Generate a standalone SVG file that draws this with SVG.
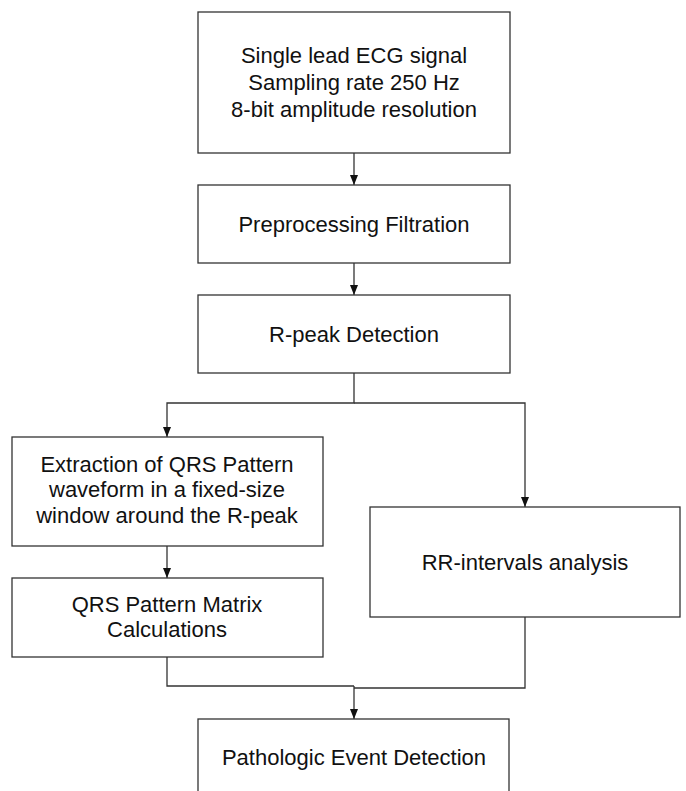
<svg xmlns="http://www.w3.org/2000/svg" width="686" height="791" viewBox="0 0 686 791">
<style>
.box{fill:#fff;stroke:#333;stroke-width:1.3}
.t{font-family:"Liberation Sans",Arial,sans-serif;font-size:22px;fill:#111;text-anchor:middle}
.c{fill:none;stroke:#333;stroke-width:1.3}
</style>
<defs>
<marker id="ah" viewBox="0 0 10 8" refX="10" refY="4" markerWidth="10" markerHeight="8" markerUnits="userSpaceOnUse" orient="auto">
<path d="M0,0 L10,4 L0,8 Z" fill="#111"/>
</marker>
</defs>
<rect width="686" height="791" fill="#fff"/>
<g id="connectors">
<path class="c" d="M354,153 V185" marker-end="url(#ah)"/>
<path class="c" d="M354,263 V295" marker-end="url(#ah)"/>
<path class="c" d="M354,373 V403 H167 V437" marker-end="url(#ah)"/>
<path class="c" d="M354,403 H525 V507" marker-end="url(#ah)"/>
<path class="c" d="M167,546 V578" marker-end="url(#ah)"/>
<path class="c" d="M167,657 V686 H354"/>
<path class="c" d="M525,617 V688 H354"/>
<path class="c" d="M354,686 V719" marker-end="url(#ah)"/>
</g>
<g id="n1">
<rect class="box" x="198" y="12" width="312" height="141"/>
<text class="t" x="354" y="63">Single lead ECG signal</text>
<text class="t" x="354" y="90">Sampling rate 250 Hz</text>
<text class="t" x="354" y="117">8-bit amplitude resolution</text>
</g>
<g id="n2">
<rect class="box" x="198" y="185" width="312" height="78"/>
<text class="t" x="354" y="232">Preprocessing Filtration</text>
</g>
<g id="n3">
<rect class="box" x="198" y="295" width="312" height="78"/>
<text class="t" x="354" y="342">R-peak Detection</text>
</g>
<g id="n4">
<rect class="box" x="12" y="437" width="311" height="109"/>
<text class="t" x="167" y="472">Extraction of QRS Pattern</text>
<text class="t" x="167" y="497">waveform in a fixed-size</text>
<text class="t" x="167" y="523">window around the R-peak</text>
</g>
<g id="n5">
<rect class="box" x="12" y="578" width="311" height="79"/>
<text class="t" x="167" y="612">QRS Pattern Matrix</text>
<text class="t" x="167" y="637">Calculations</text>
</g>
<g id="n6">
<rect class="box" x="370" y="507" width="310" height="110"/>
<text class="t" x="525" y="570">RR-intervals analysis</text>
</g>
<g id="n7">
<rect class="box" x="198" y="719" width="311" height="90"/>
<text class="t" x="354" y="765">Pathologic Event Detection</text>
</g>
</svg>
